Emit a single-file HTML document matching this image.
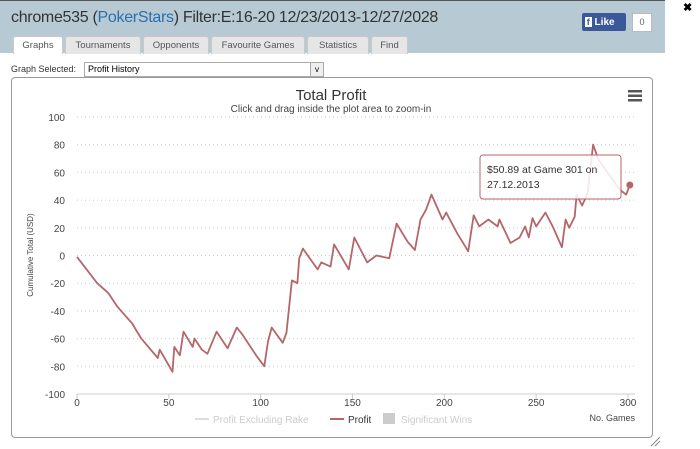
<!DOCTYPE html>
<html><head><meta charset="utf-8"><style>
body{margin:0;width:700px;height:449px;background:#fff;font-family:"Liberation Sans",sans-serif;position:relative;overflow:hidden}
#hdr{position:absolute;left:0;top:0;width:665px;height:52px;background:#b7cad3;border-top:1px solid #555}
#title{position:absolute;left:11px;top:8px;font-size:16px;color:#333;letter-spacing:-0.3px}
#title span{color:#2a6fb0}
.tab{position:absolute;top:35px;height:17px;background:#e6e6e6;border:1px solid #c9c9c9;border-bottom:none;border-radius:3px 3px 0 0;font-size:9.5px;color:#555;text-align:center;line-height:17px}
#like{position:absolute;left:582px;top:12px;width:44px;height:18px;background:#3b5998;color:#fff;font-size:10px;font-weight:bold;line-height:18px;border-radius:2px}
#cnt{position:absolute;left:632px;top:12px;width:18px;height:17px;background:#fff;border:1px solid #bbb;font-size:9px;color:#666;text-align:center;line-height:17px}
#close{position:absolute;left:683px;top:1px;font-size:11px;font-weight:bold}
#gs{position:absolute;left:11px;top:64px;font-size:9px;color:#333}
#sel{position:absolute;left:84px;top:62px;width:235px;height:13px;border:1px solid #aaa;font-size:9px;line-height:13px;padding-left:3px}
#sel b{position:absolute;right:0;top:0;width:12px;height:13px;border-left:1px solid #aaa;background:#eee;font-size:8px;text-align:center;font-weight:normal}
#box{position:absolute;left:11px;top:77px;width:640px;height:359px;border:1px solid #999;border-radius:4px}
</style></head><body>
<div id="hdr">
<div id="title">chrome535 (<span>PokerStars</span>) Filter:E:16-20 12/23/2013-12/27/2028</div>
<div class="tab" style="left:13px;width:48px;background:#fff">Graphs</div>
<div class="tab" style="left:65px;width:74px">Tournaments</div>
<div class="tab" style="left:143px;width:64px">Opponents</div>
<div class="tab" style="left:211px;width:92px">Favourite Games</div>
<div class="tab" style="left:307px;width:60px">Statistics</div>
<div class="tab" style="left:371px;width:35px">Find</div>
<div id="like">&nbsp;<span style="background:#fff;color:#3b5998;padding:0 2px;font-size:9px">f</span> Like</div>
<div id="cnt">0</div>
</div>
<div id="close">✖</div>
<div id="gs">Graph Selected:</div>
<div id="sel">Profit History<b>v</b></div>
<div id="box"></div>
<svg id="chart" width="700" height="449" style="position:absolute;left:0;top:0"></svg>
<script>
const games=[0,11,17,22,30,35,44,45,52,53,56,58,63,64,68,71,76,82,87,90,98,102,104,106,112,114,117,120,121,123,131,133,138,140,148,151,158,163,170,174,180,184,187,190,193,199,201,207,213,216,219,224,229,230,236,241,244,246,248,250,255,259,264,266,268,271,272,275,278,281,284,292,296,299,301];
const profit=[-1,-20,-27,-37,-49,-60,-74,-68,-84,-66,-72,-55,-66,-60,-68,-71,-55,-67,-52,-57,-73,-80,-62,-52,-63,-56,-18,-20,-2,5,-10,-5,-8,8,-10,13,-5,0,-2,23,10,4,26,33,44,26,31,16,3,29,21,26,21,26,9,13,21,13,27,21,31,21,6,26,20,28,44,36,45,80,69,54,47,44,50.89];
const yTicks=[100,80,60,40,20,0,-20,-40,-60,-80,-100];
const xTicks=[0,50,100,150,200,250,300];
const legendItems=["Profit Excluding Rake","Profit","Significant Wins"];
const NS="http://www.w3.org/2000/svg";
const svg=document.getElementById('chart');
const X=v=>77+v*(551/300);
const Y=v=>255.5-v*1.385;
function mk(t,a,txt){const e=document.createElementNS(NS,t);for(const k in a)e.setAttribute(k,a[k]);if(txt!=null)e.textContent=txt;svg.appendChild(e);return e;}
let e;
e=mk('text',{x:331,y:100,'text-anchor':'middle','font-size':15,fill:'#333'},'Total Profit');

e=mk('text',{x:331,y:112,'text-anchor':'middle','font-size':10,fill:'#444'},'Click and drag inside the plot area to zoom-in');

for(let i=0;i<3;i++){e=mk('rect',{x:628,y:90+i*4.5,width:14,height:2.5,fill:'#555'});}
e=mk('rect',{x:626,y:86,width:18,height:16,fill:'transparent'});

yTicks.forEach(v=>{
 e=mk('line',{x1:77,x2:635,y1:Y(v),y2:Y(v),stroke:'#ccc','stroke-dasharray':'1,3'});
 
 e=mk('text',{x:65,y:Y(v)+4,'text-anchor':'end','font-size':10,fill:'#444'},String(v));
 
});
xTicks.forEach(v=>{
 e=mk('line',{x1:X(v),x2:X(v),y1:394,y2:399,stroke:'#ccc'});
 e=mk('text',{x:X(v),y:406,'text-anchor':'middle','font-size':10,fill:'#444'},String(v));
 
});
e=mk('line',{x1:77,x2:635,y1:394,y2:394,stroke:'#ccc'});
e=mk('text',{x:635,y:421,'text-anchor':'end','font-size':9,fill:'#444'},'No. Games');

e=mk('text',{x:33,y:255,'text-anchor':'middle','font-size':8,fill:'#444',transform:'rotate(-90 33 255)'},'Cumulative Total (USD)');

const pts=games.map((g,i)=>X(g).toFixed(1)+','+Y(profit[i]).toFixed(1)).join(' ');
e=mk('polyline',{points:pts,fill:'none',stroke:'#b5666b','stroke-width':1.8,'stroke-linejoin':'round'});

const last=games.length-1;
e=mk('circle',{cx:X(games[last]),cy:Y(profit[last]),r:3.5,fill:'#b5666b'});

e=mk('rect',{x:480,y:155,width:141,height:44,rx:3,fill:'rgba(255,255,255,0.85)',stroke:'#b5666b'});

mk('text',{x:487,y:173,'font-size':10.5,fill:'#333'},'$'+profit[last].toFixed(2)+' at Game '+games[last]+' on');
mk('text',{x:487,y:188,'font-size':10.5,fill:'#333'},'27.12.2013');
// legend
const lx=[195,330,383];
legendItems.forEach((t,i)=>{
 if(i<2){mk('line',{x1:lx[i],x2:lx[i]+14,y1:419,y2:419,stroke:i==0?'#ddd':'#b5666b','stroke-width':2});}
 else{mk('rect',{x:lx[i],y:413,width:12,height:11,fill:'#ccc'});}
 e=mk('text',{x:lx[i]+18,y:423,'font-size':10,fill:i==1?'#333':'#ccc'},t);
 
});
mk('path',{d:'M651 446 L660 437 M655 446 L660 441',stroke:'#888','stroke-width':1});
</script>
</body></html>
